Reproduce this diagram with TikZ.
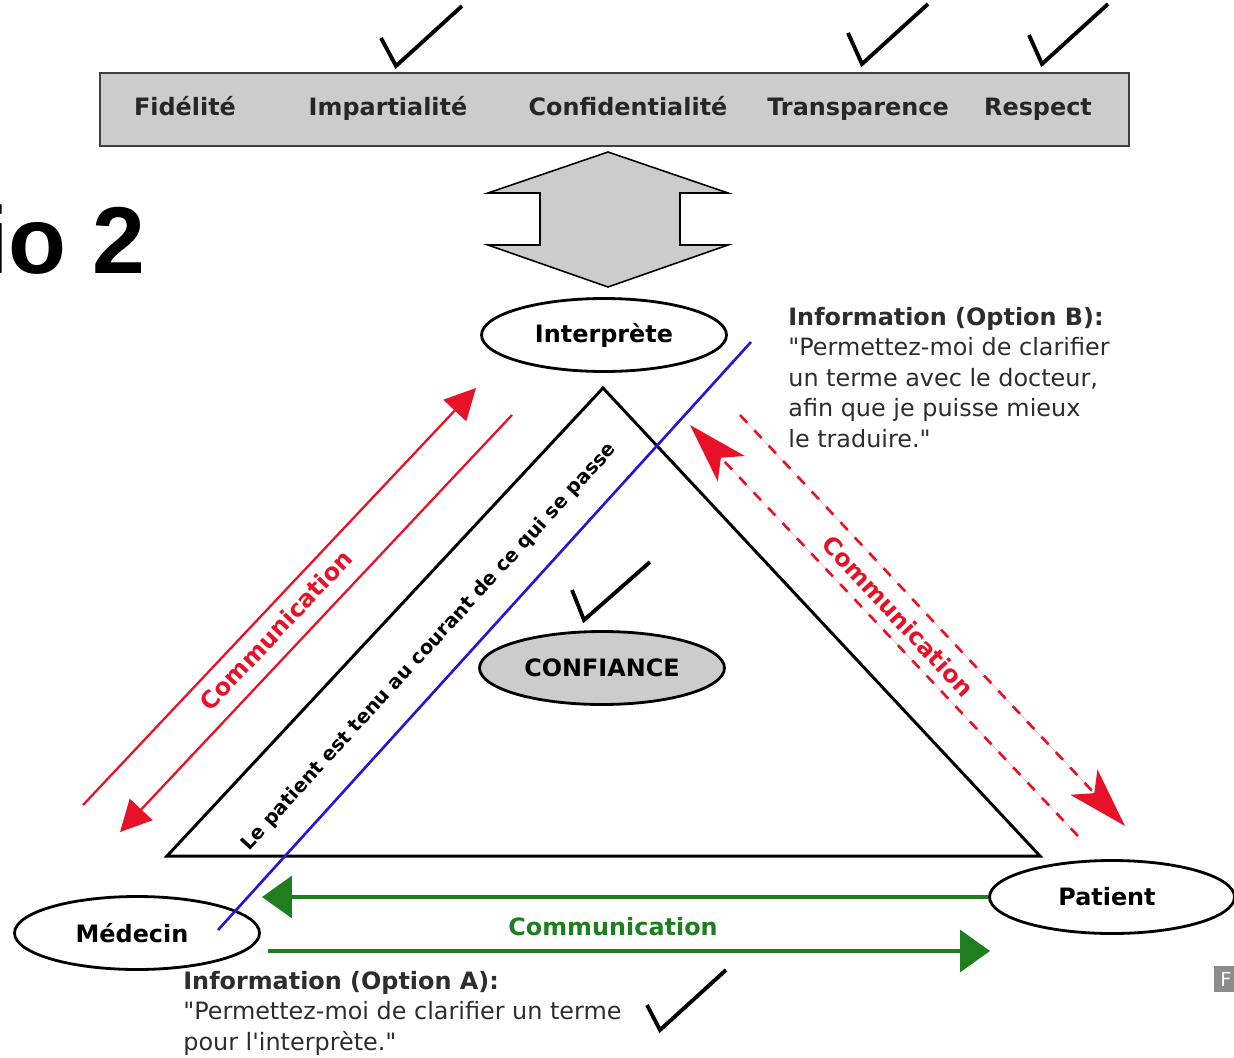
\documentclass[tikz,border=0pt]{standalone}
\usepackage{fontspec}
\setmainfont{DejaVu Sans}
\newfontfamily\slidefont{Liberation Sans}
\usetikzlibrary{shapes.geometric,arrows.meta}
\definecolor{rouge}{RGB}{232,18,40}
\definecolor{vert}{RGB}{32,125,32}
\definecolor{bleu}{RGB}{40,20,215}
\definecolor{fond}{RGB}{204,204,204}
\definecolor{texte}{RGB}{45,45,45}

\begin{document}
\begin{tikzpicture}[x=0.02cm,y=-0.02cm,
  every node/.style={font=\fontsize{13.6}{17.3}\selectfont\bfseries},
  pole/.style={draw,ellipse,line width=1.6pt,minimum width=4.9cm,minimum height=1.46cm,inner sep=0pt},
  valeur/.style={text=black!85,anchor=base},
  fleche/.style={line width=1.3pt,draw=rouge,fill=rouge,-{Triangle[length=0.62cm,width=0.62cm]}},
  pointille/.style={line width=1.5pt,draw=rouge,fill=rouge,dash pattern=on 0.21cm off 0.21cm,-{Stealth[length=1.2cm,width=0.74cm,inset=0.3cm]}},
  vertfl/.style={line width=2pt,draw=vert,fill=vert,-{Triangle[length=0.6cm,width=0.84cm]}},
  info/.style={anchor=north west,align=left,inner sep=0pt,text=texte,font=\fontsize{13.6}{17.3}\selectfont}]
  \newcommand{\coche}[3]{\draw[line width=2.2pt] #1 -- #2 -- #3;}
  \newcommand{\gl}{\textquotedbl}
  \useasboundingbox (0,0) rectangle (1234,1058);
  %\draw[help lines] (0,0) grid[step=100] (1234,1058);

  \node[anchor=base west,inner sep=0pt,font=\slidefont\bfseries\fontsize{54}{54}\selectfont] (titre) at (-18,273) {io 2};

  % valeurs
  \node[draw=black!75,fill=fond,line width=1.3pt,minimum width=20.58cm,minimum height=1.46cm] (barre) at (614.5,109.5) {};
  \node[valeur] (fid) at (185,115) {Fidélité};
  \node[valeur] (imp) at (388,115) {Impartialité};
  \node[valeur] (conf) at (628,115) {Confidentialité};
  \node[valeur] (trans) at (858,115) {Transparence};
  \node[valeur] (resp) at (1038,115) {Respect};
  \coche{(381,38)}{(396,66)}{(462,6)}
  \coche{(848,33)}{(862,64)}{(928,4)}
  \coche{(1029,35)}{(1042,64)}{(1108,4)}

  \draw[fill=fond,line width=0.9pt] (608,152) -- (728,193) -- (680,193) -- (680,245) -- (728,245)
    -- (608,287) -- (488,245) -- (540,245) -- (540,193) -- (488,193) -- cycle;

  % triangle
  \draw[line width=1.7pt] (603,388) -- (1040,856) -- (167,856) -- cycle;
  \node[pole] (interprete) at (604,335) {Interprète};
  \node[pole,fill=fond] (confiance) at (602,668) {CONFIANCE};
  \node[pole] (medecin) at (137,933) {\hspace*{-0.2cm}Médecin};
  \node[pole] (patient) at (1112,897) {\hspace*{-0.2cm}Patient};
  \coche{(572,590)}{(584,620)}{(650,562)}

  \coordinate (b1) at (218,930);
  \coordinate (b2) at (751,342);
  \draw[bleu,line width=1.5pt] (b1) -- (b2);
  \node[rotate=47.5,font=\fontsize{11.1}{12}\selectfont\bfseries] (tenu) at (429,647) {Le patient est tenu au courant de ce qui se passe};

  % communication
  \coordinate (r1) at (83,805);
  \coordinate (r2) at (476,388);
  \coordinate (r3) at (512,415);
  \coordinate (r4) at (120,832);
  \draw[fleche] (r1) -- (r2);
  \draw[fleche] (r3) -- (r4);
  \node[rotate=46.6,text=rouge] (comg) at (276,630) {Communication};

  \coordinate (d1) at (1078,836);
  \coordinate (d2) at (690,425);
  \coordinate (d3) at (740,415);
  \coordinate (d4) at (1125,826);
  \draw[pointille] (d1) -- (d2);
  \draw[pointille] (d3) -- (d4);
  \node[rotate=-47,text=rouge] (comd) at (898,616) {Communication};

  \coordinate (v1) at (262,897);
  \coordinate (v2) at (268,951);
  \coordinate (v3) at (990,951);
  \draw[vertfl] (patient.west) -- (v1);
  \draw[vertfl] (v2) -- (v3);
  \node[text=vert] (comb) at (613,927) {Communication};

  \node[info] (optb) at (788,307) {\textbf{Information (Option B):}\\\gl Permettez-moi de clarifier\\un terme avec le docteur,\\afin que je puisse mieux\\le traduire.\gl};
  \node[info] (opta) at (183,971) {\textbf{Information (Option A):}\\\gl Permettez-moi de clarifier un terme\\pour l\textquotesingle interprète.\gl};
  \coche{(647,1005)}{(660,1030)}{(726,970)}

  \node[fill=black!45,text=white,minimum width=0.48cm,minimum height=0.52cm,inner sep=0pt,font=\fontsize{11}{11}\selectfont] (f) at (1226,979) {F};
\end{tikzpicture}
\end{document}
